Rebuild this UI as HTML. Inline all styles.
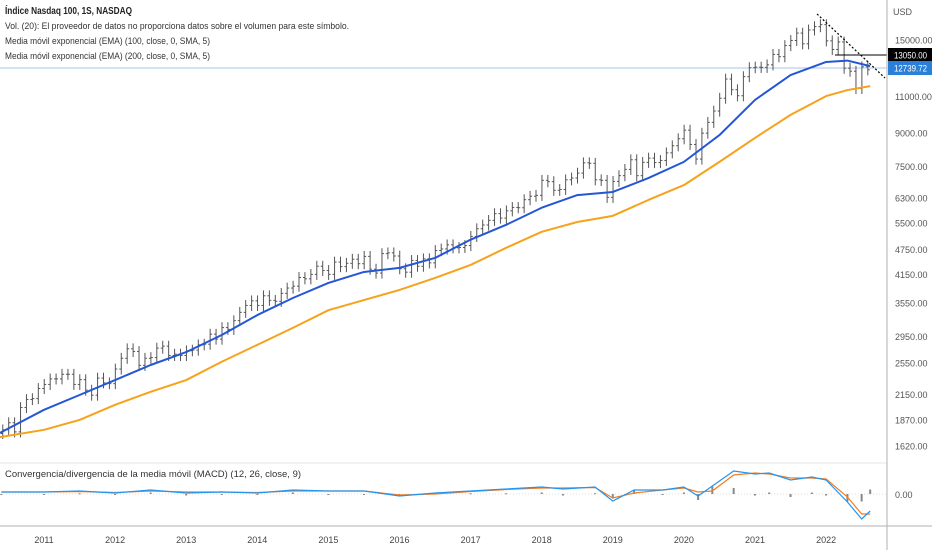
<!DOCTYPE html>
<html><head><meta charset="utf-8"><style>
body{margin:0;background:#fff;font-family:"Liberation Sans",sans-serif;}
svg text{font-family:"Liberation Sans",sans-serif;}
</style></head><body>
<svg id="c" width="932" height="550" xmlns="http://www.w3.org/2000/svg">
<rect width="932" height="550" fill="#fff"/>
<line x1="0" y1="68" x2="887" y2="68" stroke="#a9c4ee" stroke-width="1"/>
<g id="bars"></g>
<polyline id="ema200" fill="none" stroke="#f7a21b" stroke-width="2" stroke-linejoin="round"/>
<polyline id="ema100" fill="none" stroke="#2457d6" stroke-width="2" stroke-linejoin="round"/>
<line x1="835" y1="55" x2="887" y2="55" stroke="#000" stroke-width="1"/>
<line x1="817" y1="14" x2="885" y2="78" stroke="#000" stroke-width="1.2" stroke-dasharray="2,2"/>
<line x1="0" y1="463" x2="887" y2="463" stroke="#e6e6e6"/>
<line x1="0" y1="526" x2="932" y2="526" stroke="#b0b0b0"/>
<line x1="887" y1="0" x2="887" y2="550" stroke="#b0b0b0"/>
<g id="macd"></g>
<g id="yaxis"></g>
<g id="xaxis"></g>
<text x="893" y="15" font-size="9" fill="#555">USD</text>
<rect x="888" y="48" width="44" height="14" fill="#000"/>
<text x="894" y="58.5" font-size="9" textLength="33" lengthAdjust="spacingAndGlyphs" fill="#fff">13050.00</text>
<rect x="888" y="61" width="44" height="14" fill="#2a7fd9"/>
<text x="894" y="71.5" font-size="9" textLength="33" lengthAdjust="spacingAndGlyphs" fill="#fff">12739.72</text>
<text x="895" y="498" font-size="9" fill="#555">0.00</text>
<text x="5" y="14" font-size="10" font-weight="bold" textLength="127" lengthAdjust="spacingAndGlyphs" fill="#222">Índice Nasdaq 100, 1S, NASDAQ</text>
<text x="5" y="29" font-size="9.5" textLength="344" lengthAdjust="spacingAndGlyphs" fill="#333">Vol. (20): El proveedor de datos no proporciona datos sobre el volumen para este símbolo.</text>
<text x="5" y="44" font-size="9.5" textLength="205" lengthAdjust="spacingAndGlyphs" fill="#333">Media móvil exponencial (EMA) (100, close, 0, SMA, 5)</text>
<text x="5" y="59" font-size="9.5" textLength="205" lengthAdjust="spacingAndGlyphs" fill="#333">Media móvil exponencial (EMA) (200, close, 0, SMA, 5)</text>
<text x="5" y="477" font-size="9" textLength="296" lengthAdjust="spacingAndGlyphs" fill="#333">Convergencia/divergencia de la media móvil (MACD) (12, 26, close, 9)</text>
</svg>
<script>
const startYear = 2010.42;
const closes = [1770,1840,1750,2000,2090,2100,2220,
2270,2340,2340,2400,2400,2270,2330,2200,2140,2350,2290,2280,
2470,2620,2760,2720,2520,2620,2630,2770,2800,2660,2680,2660,
2730,2740,2820,2830,2990,2910,3100,3070,3220,3370,3500,3590,
3500,3690,3600,3580,3740,3850,3890,4080,4050,4150,4340,4240,
4150,4440,4330,4410,4510,4400,4580,4270,4180,4650,4670,4590,
4280,4200,4480,4340,4520,4420,4730,4770,4880,4800,4810,4860,
5110,5330,5440,5580,5790,5650,5880,5990,5980,6250,6370,6400,
6950,6900,6580,6610,6970,7040,7230,7650,7630,6970,6950,6330,
6910,7130,7380,7780,7130,7670,7850,7660,7750,8080,8400,8730,
9150,8460,7810,9000,9550,10160,10900,12110,11420,11050,12270,12890,
12930,12910,13090,13860,13690,14550,14960,15580,14690,15850,16140,16320,
14930,14240,14840,12850,12640,11500,12950,12740];
const emaTimes = [2010.38,2011,2011.5,2012,2012.5,2013,2013.5,2014,2014.5,2015,2015.5,2016,2016.5,2017,2017.5,2018,2018.5,2019,2019.5,2020,2020.5,2021,2021.5,2022,2022.3,2022.62];
const ema100 = [1740,1975,2142,2325,2525,2710,2977,3320,3646,3960,4205,4300,4541,5020,5445,5980,6410,6520,7036,7690,8905,10800,12380,13300,13400,13000];
const ema200 = [1700,1770,1868,2030,2180,2325,2570,2820,3095,3410,3605,3810,4070,4370,4800,5240,5530,5720,6240,6770,7690,8770,9950,11030,11400,11650];
const macdTimes = [2010.4,2011,2011.5,2012,2012.5,2013,2013.5,2014,2014.5,2015,2015.5,2016,2016.5,2017,2017.5,2018,2018.3,2018.75,2019,2019.3,2019.7,2020,2020.2,2020.4,2020.7,2021,2021.2,2021.5,2021.8,2022,2022.3,2022.5,2022.62];
const macdLine = [2,2,3,1,4,1,2,1,4,3,3,-2,1,3,5,7,5,7,-7,4,4,7,-2,8,23,20,21,14,17,14,-8,-25,-17];
const signalLine = [2,2,2.5,1.5,3,2,2,1.5,3,3,3,-1,0,2.5,4.5,6,6,6.5,-4,1,4,6,2,3,19,21,20,16,16,15,-3,-20,-20];
const priceTicks = [15000,11000,9000,7500,6300,5500,4750,4150,3550,2950,2550,2150,1870,1620];
const yearLabels = [2011,2012,2013,2014,2015,2016,2017,2018,2019,2020,2021,2022];

const NS="http://www.w3.org/2000/svg";
const X = t => 44 + (t-2011)*71.1;
const Y = p => 40 + (Math.log(15000)-Math.log(p))*182.4;
const ZERO = 494, MY = v => ZERO - v;
function mk(tag, attrs, parent){const e=document.createElementNS(NS,tag);for(const k in attrs)e.setAttribute(k,attrs[k]);parent.appendChild(e);return e;}

const bars=document.getElementById('bars');
for(let i=0;i<closes.length;i++){
  const o = i>0?closes[i-1]:closes[0]*0.98, c=closes[i];
  const hi=Math.max(o,c)*1.03, lo=Math.min(o,c)*0.97;
  const x = X(startYear + i/12);
  const g = mk('g',{stroke:'#555','stroke-width':1},bars);
  
  
  mk('line',{x1:x,y1:Y(hi),x2:x,y2:Y(lo)},g);
  mk('line',{x1:x-2,y1:Y(o),x2:x,y2:Y(o)},g);
  mk('line',{x1:x,y1:Y(c),x2:x+2,y2:Y(c)},g);
}
document.getElementById('ema100').setAttribute('points', emaTimes.map((t,i)=>X(t)+','+Y(ema100[i])).join(' '));
document.getElementById('ema200').setAttribute('points', emaTimes.map((t,i)=>X(t)+','+Y(ema200[i])).join(' '));

const yax=document.getElementById('yaxis');
priceTicks.forEach(p=>{
  const t=mk('text',{x:895,y:Y(p)+3.5,'font-size':9,fill:'#555'},yax);
  
  
  t.textContent=p.toFixed(2);
});
const xax=document.getElementById('xaxis');
yearLabels.forEach(y=>{
  const t=mk('text',{x:X(y),y:543,'font-size':9,fill:'#444','text-anchor':'middle'},xax);
  
  
  t.textContent=y;
});

const mg=document.getElementById('macd');
mk('line',{x1:0,y1:ZERO,x2:887,y2:ZERO,stroke:'#ddd','stroke-dasharray':'1,2'},mg);
for(let i=0;i<macdTimes.length;i++){
  const h=(macdLine[i]-signalLine[i])*1.5;
  const b=mk('rect',{x:X(macdTimes[i])-1,y:Math.min(ZERO,ZERO-h),width:2,height:Math.max(1,Math.abs(h)),fill:'#888'},mg);
  
  
}
const sl=mk('polyline',{fill:'none',stroke:'#f57c20','stroke-width':1.2,points:macdTimes.map((t,i)=>X(t)+','+MY(signalLine[i])).join(' ')},mg);


const ml=mk('polyline',{fill:'none',stroke:'#2196f3','stroke-width':1.2,points:macdTimes.map((t,i)=>X(t)+','+MY(macdLine[i])).join(' ')},mg);


</script>
</body></html>
